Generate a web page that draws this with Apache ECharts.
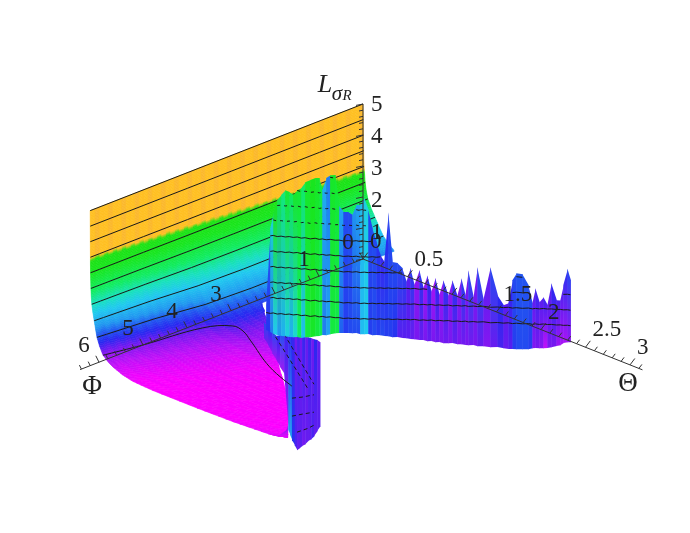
<!DOCTYPE html>
<html><head><meta charset="utf-8">
<style>html,body{margin:0;background:#fff}#c{width:690px;height:533px;filter:blur(.45px)}</style>
<script src="https://cdn.jsdelivr.net/npm/echarts@6/dist/echarts.min.js"></script>
</head><body><div id="c"></div>
<script>
// ---- data ----
const wallTheta=[0,.0004,.0008,.0012,.0016,.002,.0025,.003,.004,.006,.008,.012,.018,.03,.045,.06,.076,.105,.144,.2,.256,.36,.48,.7,1.2,1.6,2.0,2.11,2.22];
const wallL=[5,4.75,4.5,4.25,4,3.75,3.5,3.25,3,2.75,2.5,2.25,2,1.75,1.5,1.25,1,.75,.5,.35,.25,.12,.04,0,0,.02,.08,.13,.45];
const stretchPhi=[0,3,3.87,4.27,5.45,6.2];
const stretchBy=[3,3.1,3.1,2.15,1.5,1];
const floorEndPhi=[0,3,3.4,4,5,5.8,6.2];
const floorEndTheta=[.35,.35,.64,1.02,1.65,2.02,2.22];
const floorContourTheta=[.144,.22,.31,.45,.58,.75,1.24,1.64];
const floorContourPhi=[6.2,5.45,4.27,3.87,3.9,4.08,4.63,4.93];

const sheetTheta=[.405,.431,.45,.475,.5,.526,.551,.576,.602,.627,.652,.684,.715,.741,.76,.785,.81,.842,.867,.893,.924,.95,.975,1.0,1.026,1.051,1.076,1.102,1.127,1.152,1.178,1.203,1.235,1.266,1.292,1.317,1.342,1.374,1.399,1.424,1.45,1.475,1.5,1.526,1.557,1.583,1.614,1.64,1.665,1.684,1.716,1.741,1.779,1.823,1.868,1.906,1.937,1.963,1.988,2.026,2.064,2.089,2.108,2.133,2.159,2.184,2.209,2.241,2.266,2.285,2.311,2.33];
const sheetTop=[.65,3.14,3.63,4.05,4.23,4.39,4.34,4.25,4.41,4.48,4.68,4.76,4.83,4.84,4.45,4.85,4.95,4.96,3.97,3.78,3.79,3.7,4.03,4.03,4.27,3.88,3.31,2.87,2.45,2.24,3.85,2.25,2.23,2.07,1.63,2.09,1.54,2.04,1.46,1.88,1.35,1.81,1.26,1.75,1.25,1.77,1.26,1.85,1.28,2.12,1.23,2.23,1.18,2.25,1.36,1.05,1.12,1.87,2.1,2.08,1.73,1.15,1.65,1.2,1.37,1.12,1.84,1.3,1.3,1.8,2.33,1.97];
const sheetBottom=[-.15,-.21,-.27,-.3,-.32,-.32,-.34,-.34,-.33,-.35,-.32,-.31,-.27,-.26,-.22,-.22,-.18,-.14,-.13,-.12,-.11,-.11,-.1,-.13,-.12,-.11,-.14,-.13,-.13,-.15,-.15,-.17,-.16,-.18,-.18,-.2,-.2,-.22,-.21,-.24,-.23,-.26,-.25,-.28,-.27,-.26,-.29,-.28,-.3,-.3,-.29,-.32,-.31,-.33,-.31,-.34,-.36,-.35,-.35,-.34,-.33,-.29,-.28,-.28,-.27,-.26,-.23,-.18,-.15,-.07,-.04,-.03];
const sheetColourTop=[1.1,1.9,3.2,2.6,2.3,2.8,2.5,2.9,2.8,2.4,2.9,3.0,2.9,2.7,1.5,1.2,2.9,2.8,1.4,1.0,1.0,1.3,1.4,1.6,1.8,1.0,1.0,.9,.8,.85,1.0,1.0,1.0,.95,.7,.95,.5,.9,.45,.85,.4,.85,.45,.9,.5,.9,.55,.95,.6,1.0,.6,1.0,.7,1.0,.85,.7,.85,1.0,1.05,1.05,1.0,.7,.8,.7,.8,.7,.85,.75,.75,.9,1.0,.9];
const sheetColourBottom=[.9,1.2,1.7,1.3,1.5,1.8,1.5,1.9,2.4,1.6,2.7,2.9,2.7,2.5,1.2,1.4,2.7,2.6,1.1,.95,1.0,1.0,1.0,1.6,1.7,.95,1.0,.95,1.0,.95,.95,.9,.7,.7,.7,.65,.6,.65,.6,.65,.6,.62,.6,.62,.6,.65,.6,.62,.6,.62,.6,.65,.55,.65,.75,.65,.7,.95,1.0,1.0,.95,.55,.6,.55,.3,.6,.6,.45,.4,.4,.5,.4];
const sheetContourShift=[-.09,-.11,-.09,-.12,-.1,-.12,-.1,-.12,-.1,-.13,-.11,-.14,-.11,-.14,-.12,-.14,-.12,-.14,-.13,-.15,-.13,-.14,-.12,-.14,-.12,-.13,-.11,-.12,-.1,-.11,-.09,-.1,-.08,-.09,-.07,-.08,-.06,-.08,-.06,-.07,-.05,-.07,-.05,-.06,-.04,-.06,-.04,-.05,-.03,-.05,-.03,-.04,-.02,-.04,-.02,-.03,-.01,-.03,-.01,-.02,0,-.02,0,-.01,.01,0,.01,0,.01,0,.01,0];

const stripTheta=[.46,.62,.78,.94,1.1,1.26,1.42,1.5,1.58,1.68,1.78,1.88,1.98,2.1,2.22,2.34,2.46,2.58,2.7];
const stripPhi=[3.18,3.41,3.64,3.87,4.11,4.34,4.57,4.69,4.81,4.95,5.10,5.24,5.39,5.56,5.74,5.91,6.09,6.26,6.44];
const stripTop=[.25,.37,.55,.73,1.08,1.39,1.7,1.86,2.01,2.21,2.4,2.6,2.76,2.96,3.19,3.39,3.59,3.8,3.96];
const stripBottom=[-.26,-.18,-.13,-.04,.05,.13,-1.36,-1.37,-1.38,-1.35,-1.31,-1.05,-.79,-.5,-.16,.13,.46,.86,1.25];
const stripColourTop=[1.0,.9,1.0,.85,1.05,.8,.8,.85,.8,.62,.75,.62,.8,.66,.8,.62,.85,.66,.75];
const stripColourBottom=[.6,.5,.45,.45,.4,.4,1.35,1.35,.9,.75,.66,.7,.62,.66,.66,.75,.66,.7,.66];
const stripContours=[
 {theta:[.62,1.1,1.58,1.98,2.22],phi:[3.41,4.11,4.81,5.39,5.74],l:[.47,.79,1.11,1.37,1.52]},
 {theta:[1.26,1.58,1.98,2.46],phi:[4.34,4.81,5.39,6.09],l:[1.42,1.62,1.85,2.14]},
 {theta:[1.58,1.98,2.46],phi:[4.81,5.39,6.09],l:[-.02,.79,1.8]},
 {theta:[1.58,1.98,2.46],phi:[4.81,5.39,6.09],l:[-.6,.24,1.24]},
 {theta:[1.78,2.22,2.46],phi:[5.10,5.74,6.09],l:[-.73,.25,.82]}
];

const lTicks=[0,1,2,3,4,5];
const phiTicks=[0,1,3,4,5,6];
const thetaTicks=[0,0.5,1.5,2,2.5,3];
const contourLevels=[.5,1,1.5,2,2.5,3,3.5,4,4.5,5];
const wallContourLevels=[1,1.5,2,2.5,3,3.5,4,4.5,5];

// ---- oblique view of (theta, phi, L) ----
const view={ox:363,oy:259,tx:89,ty:35.3,px:-44,py:17.2,lz:-31};
const project=(t,p,l)=>[view.ox+view.tx*t+view.px*p, view.oy+view.ty*t+view.py*p+view.lz*l];
const ridgePhi=t=>3.06-1.57*(t-.38);
function table(xs,ys,x){
  if(x<=xs[0])return ys[0];
  for(let i=1;i<xs.length;i++) if(x<=xs[i]) return ys[i-1]+(ys[i]-ys[i-1])*(x-xs[i-1])/(xs[i]-xs[i-1]);
  return ys[ys.length-1];
}
// ---- colour scale ----
const cStops=[[0,[255,0,255]],[.3,[192,16,248]],[.6,[120,24,240]],[.85,[40,40,240]],[1.1,[32,96,240]],[1.3,[32,152,240]],[1.7,[32,200,240]],[2.0,[24,224,192]],[2.4,[16,236,96]],[3.0,[24,230,30]],[3.38,[28,226,20]],[3.5,[255,192,32]],[5.5,[255,196,30]]];
function colour(c){
  c=Math.max(0,Math.min(5.5,c));
  for(let i=1;i<cStops.length;i++) if(c<=cStops[i][0]){
    const a=cStops[i-1],b=cStops[i],f=(c-a[0])/(b[0]-a[0]);
    return 'rgb('+a[1].map((v,k)=>Math.round(v+(b[1][k]-v)*f)).join(',')+')';
  }
}
const wallShift=(p,l)=>.6*(1-p/6.2)*Math.min(1,l/.5);

// ---- marks in painter's order ----
const marks=[];
const INK='#1a1a1a';
const SUB=5;
// wall and floor
for(let r=0;r<62;r++){
  const p0=r*.1,p1=Math.min(6.2,(r+1)*.1),pm=(p0+p1)/2;
  const thetaAt=(p,f)=>{
    const i=Math.floor(f),g=f-i,j=Math.min(i+1,wallTheta.length-1);
    return (wallTheta[i]+(wallTheta[j]-wallTheta[i])*g)*table(stretchPhi,stretchBy,p);
  };
  const lAt=f=>{
    const i=Math.floor(f),g=f-i,j=Math.min(i+1,wallTheta.length-1);
    return wallL[i]+(wallL[j]-wallL[i])*g;
  };
  const rowPt=(p,f)=>project(Math.min(thetaAt(p,f),table(floorEndPhi,floorEndTheta,p)),p,lAt(f));
  for(let k=0;k<(wallTheta.length-1)*SUB;k++){
    const f0=k/SUB,f1=(k+1)/SUB,fm=(f0+f1)/2;
    if(thetaAt(p0,f0)>=table(floorEndPhi,floorEndTheta,p0)&&thetaAt(p1,f0)>=table(floorEndPhi,floorEndTheta,p1)) continue;
    const lm=lAt(fm);
    const c=lm+wallShift(pm,lm);
    let col;
    if(c>=3.5) col=(r%3==0)?'#fbb82c':'#ffc022';
    else col=colour(c+((r%2)?.02:-.02));
    marks.push({k:'poly',pts:[rowPt(p0,f0),rowPt(p1,f0),rowPt(p1,f1),rowPt(p0,f1)],fill:col,stroke:col});
  }
}
// wall contours
wallContourLevels.forEach(l=>{
  const t=table(wallL.slice(0,19).reverse(),wallTheta.slice(0,19).reverse(),l);
  const a=[],n=[0,1,2,3,4,5,6,6.2];
  n.forEach(p=>a.push(project(t*table(stretchPhi,stretchBy,p),p,l)));
  marks.push({k:'line',pts:a,width:1});
});
// strip below the ridge
function columns(th,ph,top,bot,cT,cB){
  for(let i=0;i<th.length-1;i++){
    const a=project(th[i],ph[i],top[i]),b=project(th[i+1],ph[i+1],top[i+1]);
    const c=project(th[i+1],ph[i+1],bot[i+1]),d=project(th[i],ph[i],bot[i]);
    b[0]+=.5;c[0]+=.5;
    marks.push({k:'grad',pts:[a,b,c,d],c0:colour(cT[i]),c1:colour(cB[i])});
  }
}
columns(stripTheta,stripPhi,stripTop,stripBottom,stripColourTop,stripColourBottom);
stripContours.forEach(s=>marks.push({k:'line',pts:s.theta.map((t,i)=>project(t,s.phi[i],s.l[i])),width:1,dash:[4,3]}));
// floor contour
marks.push({k:'line',pts:floorContourTheta.map((t,i)=>project(t,floorContourPhi[i],.5)),width:1,smooth:.4});
// main sheet
if(new Set([sheetTheta,sheetTop,sheetBottom,sheetColourTop,sheetColourBottom,sheetContourShift].map(a=>a.length)).size>1)
  throw new Error('len '+[sheetTheta,sheetTop,sheetBottom,sheetColourTop,sheetColourBottom,sheetContourShift].map(a=>a.length));
const sheetPhi=sheetTheta.map(ridgePhi);
columns(sheetTheta,sheetPhi,sheetTop,sheetBottom,sheetColourTop,sheetColourBottom);
contourLevels.forEach(lev=>{
  let run=[];
  const flush=()=>{if(run.length>1)marks.push({k:'line',pts:run,width:1,dash:lev>=3.5?[3,4]:null});run=[];};
  sheetTheta.forEach((t,i)=>{
    const l=lev+sheetContourShift[i];
    if(sheetTop[i]>=l) run.push(project(t,sheetPhi[i],l)); else flush();
  });
  flush();
});
// axes
const AX='#333';
const seg=(a,b)=>marks.push({k:'line',pts:[a,b],width:1,stroke:AX});
seg(project(0,0,0),project(0,0,5));
for(let i=0;i<=25;i++){const l=i/5,a=project(0,0,l),s=(i%5==0)?7:4;seg(a,[a[0]-s,a[1]+s*.2]);}
seg(project(0,0,0),project(0,6.43,0));
for(let i=0;i<=32;i++){const p=i/5,a=project(0,p,0),s=(i%5==0)?1.6:1;seg(a,[a[0]-2*s,a[1]-4*s]);}
seg(project(0,0,0),project(3.14,0,0));
for(let i=0;i<=31;i++){const t=i/10,a=project(t,0,0),s=(i%5==0)?1.6:1;seg(a,[a[0]+3*s,a[1]-4*s]);}
const font='"Liberation Serif","Times New Roman",serif';
const label=(p,txt,size,align,style)=>marks.push({k:'text',p,txt,size,align,style});
lTicks.slice(1).forEach(l=>{const a=project(0,0,l);label([a[0]+8,a[1]+1+(5-l)*.9],String(l),23,'left');});
phiTicks.forEach(p=>{const a=project(0,p,0);label([a[0]-15,a[1]-16],String(p),23,'center');});
thetaTicks.forEach(t=>{const a=project(t,0,0);label([a[0]+7,a[1]-17],String(t),23,'left');});
label([92,387],'Φ',27,'center');
label([628,384],'Θ',27,'center');
label([325,85],'L',26,'center','italic');
label([337,94],'σ',21,'center','italic');
label([347,96],'R',15,'center','italic');

const chart=echarts.init(document.getElementById('c'),null,{renderer:'canvas'});
chart.setOption({
  animation:false,
  backgroundColor:'#fff',
  grid:{left:0,right:0,top:0,bottom:0},
  xAxis:{type:'value',min:0,max:690,show:false},
  yAxis:{type:'value',min:0,max:533,inverse:true,show:false},
  series:[{
    type:'custom',silent:true,clip:false,progressive:0,
    coordinateSystem:'cartesian2d',
    data:marks.map((m,i)=>[i,0]),
    renderItem(params,api){
      const m=marks[params.dataIndex];
      if(m.k==='text'){
        const q=api.coord(m.p);
        return {type:'text',z2:params.dataIndex,style:{x:q[0],y:q[1],text:m.txt,fill:'#222',font:(m.style?m.style+' ':'')+m.size+'px '+font,align:m.align,verticalAlign:'middle'}};
      }
      const pts=m.pts.map(p=>api.coord(p));
      if(m.k==='line'){
        return {type:'polyline',z2:params.dataIndex,shape:{points:pts,smooth:m.smooth||0},style:{fill:null,stroke:m.stroke||INK,lineWidth:m.width,lineDash:m.dash||null}};
      }
      if(m.k==='grad'){
        return {type:'polygon',z2:params.dataIndex,shape:{points:pts},style:{fill:new echarts.graphic.LinearGradient(0,0,0,1,[{offset:0,color:m.c0},{offset:1,color:m.c1}])}};
      }
      return {type:'polygon',z2:params.dataIndex,shape:{points:pts},style:{fill:m.fill,stroke:m.stroke,lineWidth:.6}};
    }
  }]
});
</script></body></html>
